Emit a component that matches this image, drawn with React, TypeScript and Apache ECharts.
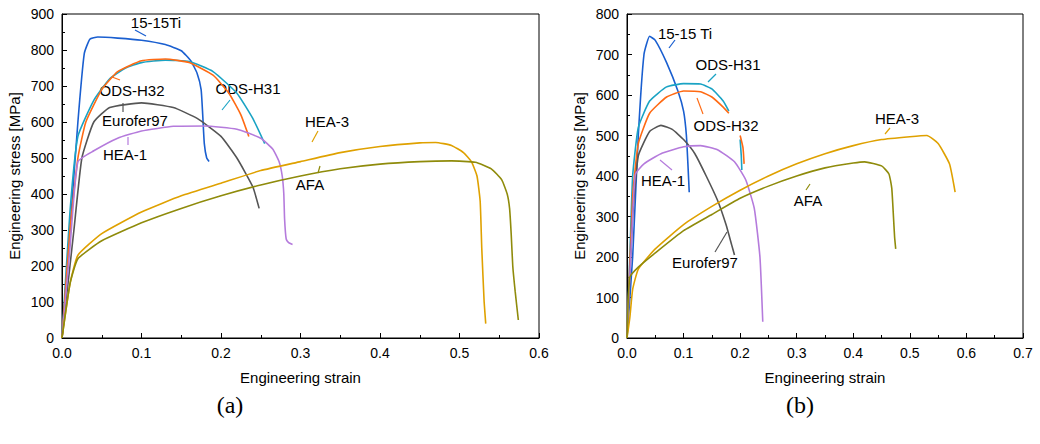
import React, { useEffect, useRef } from "react";
import * as echarts from "echarts";

const namesA = ["15-15Ti", "ODS-H31", "ODS-H32", "Eurofer97", "HEA-1", "HEA-3", "AFA"];
const colors = ["#1a5fd0", "#1aa3c4", "#ff6a13", "#555555", "#b57bdc", "#dfa100", "#8f8b0b"];

const a1515 = [[0,0],[0.01,300],[0.02,600],[0.028,790],[0.035,830],[0.045,836],[0.07,833],[0.1,827],[0.13,815],[0.15,798],[0.162,770],[0.17,735],[0.175,690],[0.177,620],[0.179,540],[0.182,500],[0.185,490]];
const aH31 = [[0,0],[0.01,350],[0.02,560],[0.04,660],[0.06,720],[0.08,750],[0.1,765],[0.13,772],[0.16,768],[0.19,740],[0.22,680],[0.24,610],[0.255,540]];
const aH32 = [[0,0],[0.01,300],[0.02,500],[0.03,600],[0.05,690],[0.07,740],[0.1,770],[0.13,775],[0.16,765],[0.19,730],[0.21,680],[0.225,620],[0.235,560]];
const aEuro = [[0,0],[0.015,300],[0.025,500],[0.04,600],[0.06,640],[0.1,653],[0.14,640],[0.17,610],[0.2,560],[0.22,500],[0.24,420],[0.248,360]];
const aHEA1 = [[0,0],[0.01,250],[0.02,490],[0.04,520],[0.07,555],[0.1,575],[0.14,588],[0.18,589],[0.22,580],[0.25,555],[0.265,525],[0.273,490],[0.277,450],[0.279,400],[0.28,330],[0.282,275],[0.285,265],[0.29,260]];
const aHEA3 = [[0,0],[0.01,150],[0.02,230],[0.05,290],[0.1,350],[0.15,395],[0.2,430],[0.25,465],[0.3,490],[0.35,515],[0.4,532],[0.45,542],[0.47,543],[0.49,535],[0.505,515],[0.515,490],[0.522,450],[0.526,380],[0.528,250],[0.531,100],[0.533,40]];
const aAFA = [[0,0],[0.01,150],[0.02,220],[0.05,270],[0.1,320],[0.15,360],[0.2,395],[0.25,425],[0.3,450],[0.35,470],[0.4,483],[0.45,490],[0.49,492],[0.52,488],[0.54,470],[0.553,440],[0.56,400],[0.563,360],[0.565,290],[0.567,200],[0.57,130],[0.574,50]];

const b1515 = [[0,0],[0.01,200],[0.02,500],[0.03,700],[0.04,745],[0.05,735],[0.07,680],[0.09,610],[0.1,560],[0.105,500],[0.108,420],[0.11,360]];
const bH31 = [[0,0],[0.005,200],[0.01,400],[0.02,520],[0.04,585],[0.07,620],[0.1,628],[0.13,627],[0.15,615],[0.17,585],[0.18,560],[null,null],[0.2,490],[0.202,450],[0.203,415]];
const bH32 = [[0,0],[0.01,350],[0.02,480],[0.04,555],[0.07,595],[0.1,610],[0.13,608],[0.15,595],[0.17,570],[0.18,555],[null,null],[0.2,500],[0.205,470],[0.207,430]];
const bEuro = [[0,0],[0.01,300],[0.02,450],[0.04,510],[0.06,525],[0.08,515],[0.1,490],[0.12,455],[0.14,400],[0.16,340],[0.175,280],[0.185,230],[0.19,205]];
const bHEA1 = [[0,0],[0.01,300],[0.015,405],[0.03,430],[0.06,455],[0.1,472],[0.13,475],[0.16,465],[0.19,435],[0.21,390],[0.225,320],[0.235,200],[0.24,40]];
const bHEA3 = [[0,0],[0.005,50],[0.01,120],[0.02,170],[0.05,220],[0.1,280],[0.15,325],[0.2,365],[0.25,400],[0.3,430],[0.35,455],[0.4,475],[0.45,490],[0.5,497],[0.53,500],[0.55,480],[0.57,430],[0.58,360]];
const bAFA = [[0,0],[0.005,150],[0.02,175],[0.05,210],[0.1,265],[0.15,305],[0.2,345],[0.25,375],[0.3,400],[0.35,420],[0.4,432],[0.42,435],[0.45,425],[0.463,405],[0.468,370],[0.471,300],[0.473,250],[0.475,220]];

const dataA = [a1515, aH31, aH32, aEuro, aHEA1, aHEA3, aAFA];
const dataB = [b1515, bH31, bH32, bEuro, bHEA1, bHEA3, bAFA];
const labelsB = ["15-15 Ti", "ODS-H31", "ODS-H32", "Eurofer97", "HEA-1", "HEA-3", "AFA"];

const FONT = "Liberation Sans, Arial, sans-serif";

export default function App() {
  const ref = useRef<HTMLDivElement>(null);
  useEffect(() => {
    const chart = echarts.init(ref.current!, null, { renderer: "svg" });
    const axisCommon = {
      axisLine: { show: true, onZero: false, lineStyle: { color: "#000", width: 1 } },
      axisTick: { show: true, inside: true, length: 5, lineStyle: { color: "#000" } },
      minorTick: { show: true, splitNumber: 2, length: 3, lineStyle: { color: "#000" } },
      axisLabel: { color: "#000", fontSize: 14, fontFamily: FONT },
      splitLine: { show: false },
      nameTextStyle: { color: "#000", fontSize: 15, fontFamily: FONT },
    };
    const mkX = (gi: number, max: number) => ({
      type: "value", gridIndex: gi, min: 0, max, interval: 0.1, ...axisCommon,
      axisLabel: { ...axisCommon.axisLabel, formatter: (v: number) => v.toFixed(1) },
      name: "Engineering strain", nameLocation: "middle", nameGap: 32,
    });
    const mkY = (gi: number, max: number) => ({
      type: "value", gridIndex: gi, min: 0, max, interval: 100, ...axisCommon,
      name: "Engineering stress [MPa]", nameLocation: "middle", nameGap: 40,
    });
    const series: any[] = [];
    const mk = (d: any, i: number, ax: number) => ({ type: "line", xAxisIndex: ax, yAxisIndex: ax, data: d, showSymbol: false, smooth: 0.15, lineStyle: { color: colors[i], width: 1.6 }, connectNulls: false });
    dataA.forEach((d, i) => series.push(mk(d, i, 0)));
    dataB.forEach((d, i) => series.push(mk(d, i, 1)));
    const txt = (s: string, x: number, y: number) => ({ type: "text", x, y, style: { text: s, fill: "#000", fontSize: 15, fontFamily: FONT, align: "center", verticalAlign: "middle" } });
    const arr = (x1: number, y1: number, x2: number, y2: number, c: string) => ({ type: "line", shape: { x1, y1, x2, y2 }, style: { stroke: c, lineWidth: 1.2 } });
    const graphic: any[] = [
      txt(namesA[0], 156, 22), arr(135, 30, 146, 36, colors[0]),
      txt(namesA[2], 132, 90), arr(120, 80, 112, 77, colors[2]),
      txt(namesA[3], 135, 120), arr(123, 112, 123, 103, colors[3]),
      txt(namesA[4], 125, 154), arr(128, 145, 128, 137, colors[4]),
      txt(namesA[1], 248, 88), arr(230, 100, 222, 110, colors[1]),
      txt(namesA[5], 327, 121), arr(318, 131, 312, 142, colors[5]),
      txt(namesA[6], 310, 184), arr(318, 173, 320, 166, colors[6]),
      txt(labelsB[0], 685, 33), arr(675, 40, 669, 48, colors[0]),
      txt(labelsB[1], 728, 64), arr(716, 74, 708, 82, colors[1]),
      txt(labelsB[2], 726, 125), arr(703, 114, 697, 98, colors[2]),
      txt(labelsB[3], 705, 262), arr(715, 252, 727, 232, colors[3]),
      txt(labelsB[4], 663, 180), arr(672, 170, 660, 160, colors[4]),
      txt(labelsB[5], 897, 118), arr(890, 128, 885, 134, colors[5]),
      txt(labelsB[6], 808, 200), arr(806, 190, 810, 184, colors[6]),
      { type: "text", x: 230, y: 405, style: { text: "(a)", fill: "#000", fontSize: 24, fontFamily: "Liberation Serif, Times New Roman, serif", align: "center", verticalAlign: "middle" } },
      { type: "text", x: 800, y: 405, style: { text: "(b)", fill: "#000", fontSize: 24, fontFamily: "Liberation Serif, Times New Roman, serif", align: "center", verticalAlign: "middle" } },
      { type: "rect", shape: { x: 62, y: 14, width: 477, height: 324 }, style: { fill: "none", stroke: "#000", lineWidth: 1 } },
      { type: "rect", shape: { x: 627, y: 14, width: 396, height: 324 }, style: { fill: "none", stroke: "#000", lineWidth: 1 } },
    ];
    chart.setOption({
      animation: false,
      backgroundColor: "#fff",
      grid: [
        { left: 62, top: 14, width: 477, height: 324 },
        { left: 627, top: 14, width: 396, height: 324 },
      ],
      xAxis: [mkX(0, 0.6), mkX(1, 0.7)],
      yAxis: [mkY(0, 900), mkY(1, 800)],
      series,
      graphic,
    });
    return () => chart.dispose();
  }, []);
  return <div ref={ref} style={{ width: 1040, height: 444, position: "absolute", left: 0, top: 0 }} />;
}
